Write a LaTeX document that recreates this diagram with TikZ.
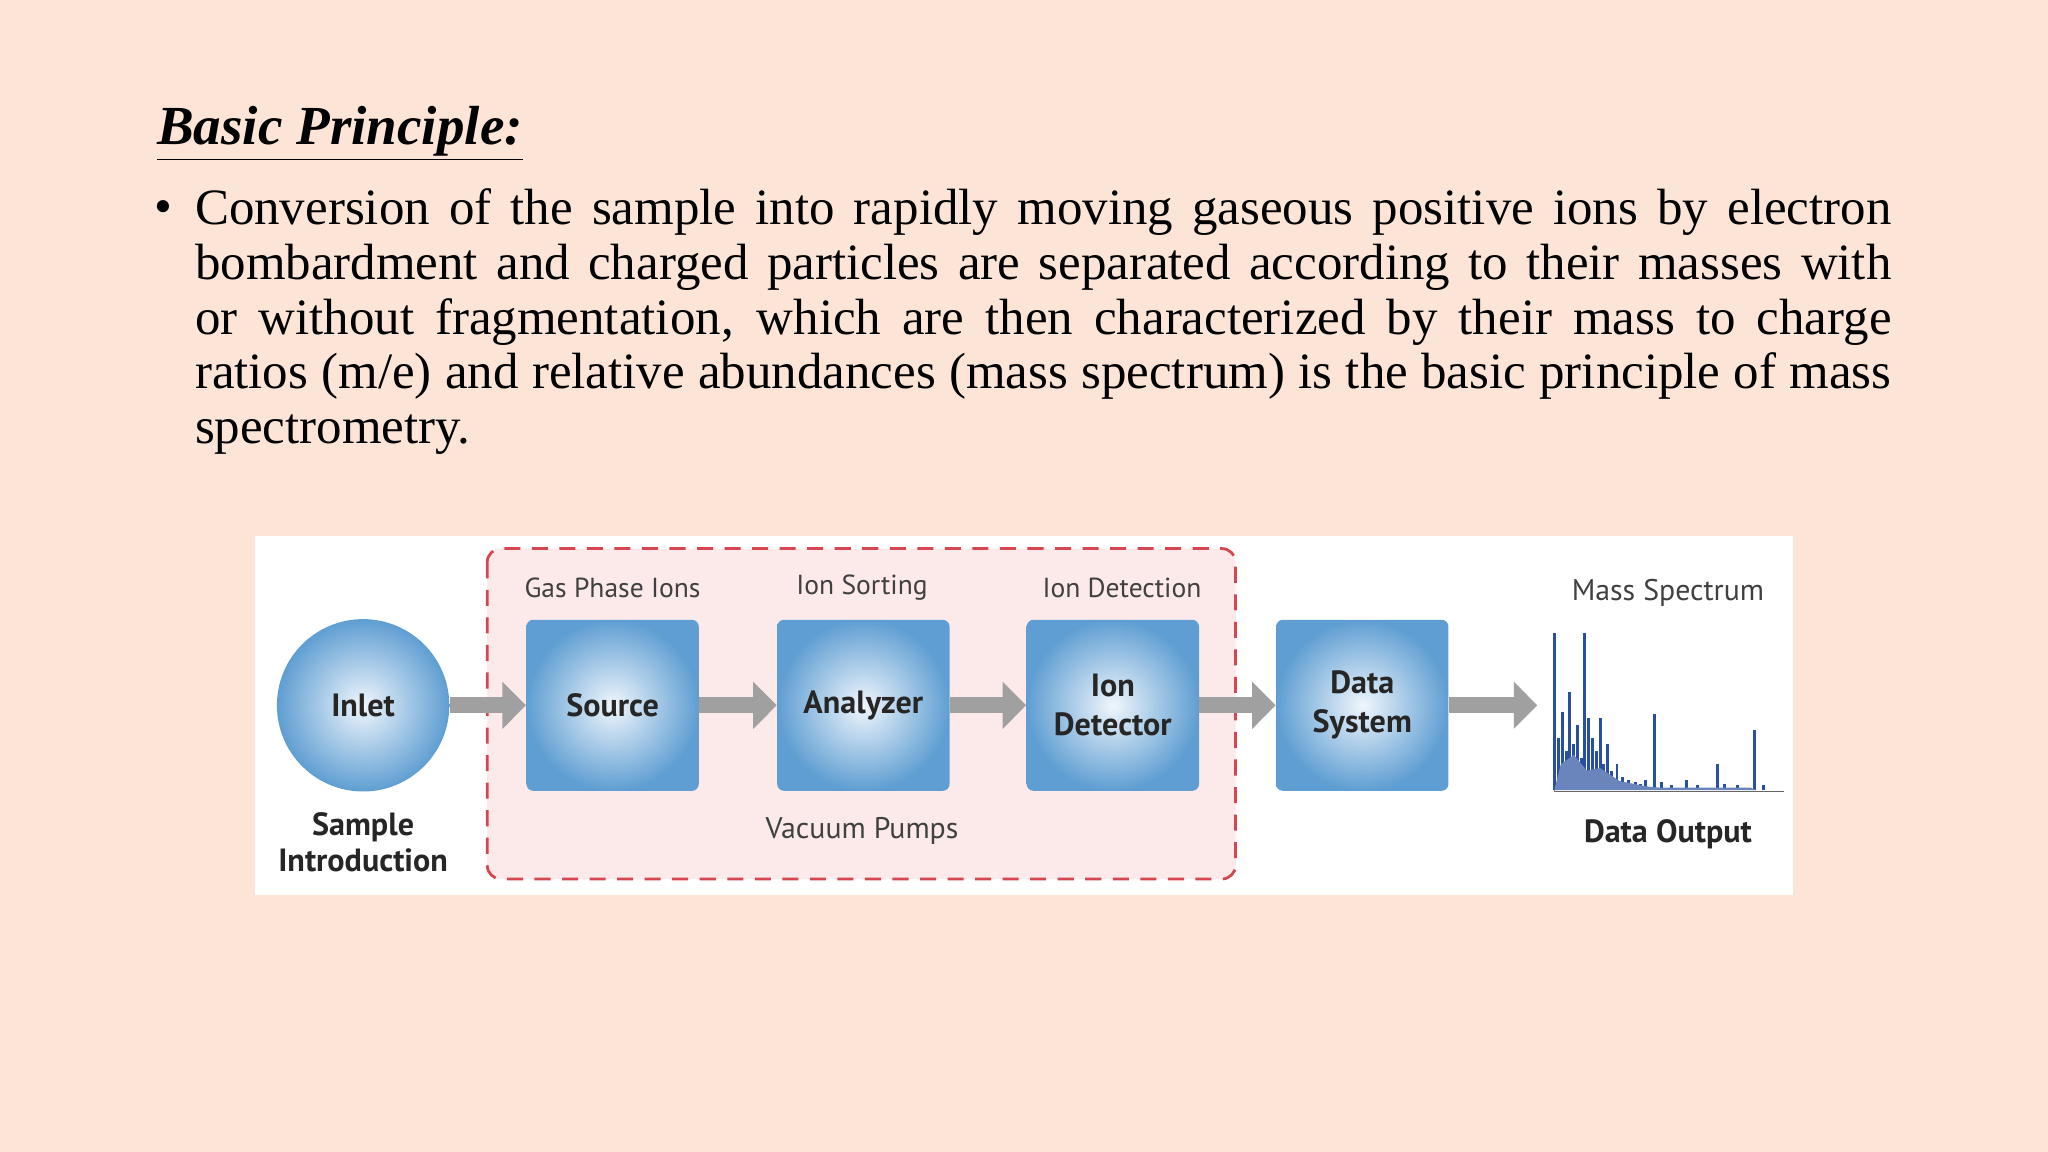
\documentclass[tikz,border=0pt]{standalone}
\usepackage{fontspec}
\setmainfont{Liberation Serif}
\newfontfamily\diag{PT Sans}
\usetikzlibrary{arrows.meta,shadings}
\definecolor{bgc}{RGB}{252,228,214}
\definecolor{pinkf}{RGB}{252,233,233}
\definecolor{redd}{RGB}{214,70,80}
\definecolor{bluo}{RGB}{95,158,210}
\definecolor{blui}{RGB}{240,246,252}
\definecolor{arrg}{RGB}{160,160,160}
\definecolor{specb}{RGB}{40,80,160}
\tikzset{
 blk/.style={rounded corners=3, inner color=blui, outer color=bluo, minimum width=2.64cm, minimum height=2.62cm, font=\diag\bfseries\fontsize{14}{17}\selectfont, align=center, text=black!85},
 lab/.style={font=\diag\fontsize{12}{14}\selectfont, text=black!75},
 blab/.style={font=\diag\bfseries\fontsize{14}{15.5}\selectfont, align=center, text=black!85},
 garr/.style={line width=0.24cm, draw=arrg, -{Triangle[length=0.36cm,width=0.7cm]}}
}
\begin{document}
\begin{tikzpicture}[x=0.02cm,y=-0.02cm]
\fill[bgc] (0,0) rectangle (1568,882);
\useasboundingbox (0,0) rectangle (1568,882);
\node[anchor=base west, inner sep=0, font=\fontsize{24}{25}\selectfont\bfseries\itshape] (title) at (120,111) {\underline{Basic Principle:}};
\node[anchor=north west, inner sep=0, text width=25.98cm, align=justify, font=\fontsize{22.2}{24}\selectfont] (para) at (149,144) {\baselineskip=0.84cm \hyphenpenalty=10000 Conversion of the sample into rapidly moving gaseous positive ions by electron\linebreak bombardment and charged particles are separated according to their masses with\linebreak or without fragmentation, which are then characterized by their mass to charge\linebreak ratios (m/e) and relative abundances (mass spectrum) is the basic principle of mass\linebreak spectrometry.\par};
\node[anchor=base west, inner sep=0, font=\fontsize{22.2}{24}\selectfont] (bul) at (118,171) {\textbullet};
\fill[white] (195,410) rectangle (1373,685);
\draw[redd, line width=1.2pt, dash pattern=on 7pt off 5pt, fill=pinkf, rounded corners=6] (373,420) rectangle (946,673);
\node[circle, inner color=blui, outer color=bluo, minimum size=2.64cm, font=\diag\bfseries\fontsize{14}{17}\selectfont, text=black!85] (inlet) at (278,540) {Inlet};
\node[blk] (src) at (469,540) {Source};
\node[blk] (ana) at (661,540) {Analyzer};
\node[blk] (det) at (852,540) {Ion\\Detector};
\node[blk] (dat) at (1043,540) {Data\\System};
\coordinate (spec) at (1177,540);
\draw[garr] (inlet) -- (src);
\draw[garr] (src) -- (ana);
\draw[garr] (ana) -- (det);
\draw[garr] (det) -- (dat);
\draw[garr] (dat.east) -- (spec);
\node[lab] (l1) at (469,450) {Gas Phase Ions};
\node[lab] (l2) at (660,450) {Ion Sorting};
\node[lab] (l3) at (859,450) {Ion Detection};
\node[lab, font=\diag\fontsize{13}{15}\selectfont] (l4) at (1277,454) {Mass Spectrum};
\node[lab, font=\diag\fontsize{13}{15}\selectfont] (l5) at (660,636) {Vacuum Pumps};
\node[blab] (l6) at (278,645) {Sample\\Introduction};
\node[blab] (l7) at (1277,639) {Data Output};
% spectrum
\draw[black!60, line width=0.8pt] (1190,606) -- (1366,606);
\draw[black!50, line width=0.6pt] (1190,606) -- (1190,580);
\foreach \x/\h in {1190/120,1193/40,1196/60,1199/30,1202/75,1205/35,1208/50,1211/25,1213/120,1216/55,1219/40,1222/30,1225/55,1228/20,1231/35,1234/15,1238/20,1242/10,1247/8,1252/6,1256/5,1260/8,1267/58,1272/6,1280/4,1291/8,1300/4,1315/20,1320/5,1330/4,1343/46,1350/4}
 \draw[specb, line width=1.3pt] (\x,605) -- (\x,605-\h);
\fill[specb!70] (1190,605) -- (1195,585) -- (1205,578) -- (1215,590) -- (1225,588) -- (1240,598) -- (1260,602) -- (1270,603) -- (1340,603) -- (1345,605) -- cycle;
\end{tikzpicture}
\end{document}
